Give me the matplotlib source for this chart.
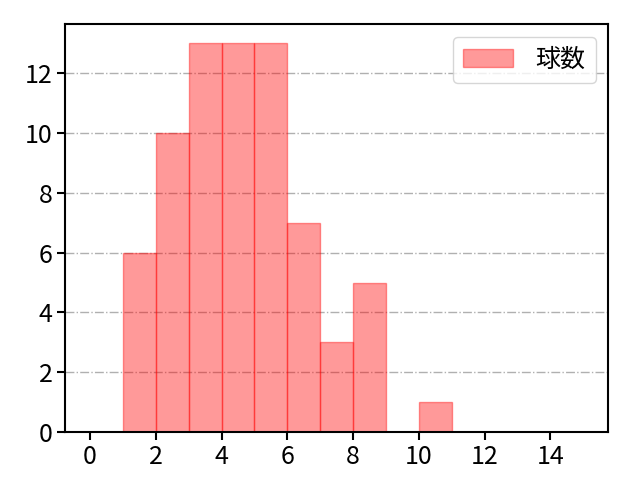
import matplotlib
matplotlib.use("Agg")
import matplotlib.pyplot as plt
import numpy as np

plt.rcParams['font.family'] = ['Noto Sans CJK JP', 'DejaVu Sans']

bin_edges = list(range(0, 16))
counts = [0, 6, 10, 13, 13, 13, 7, 3, 5, 0, 1, 0, 0, 0, 0]
label = "球数"

fig = plt.figure(figsize=(6.4, 4.8), dpi=100)
ax = fig.add_axes([0.102, 0.1, 0.848, 0.85])
ax.hist(bin_edges[:-1], bins=bin_edges, weights=counts, color='red', alpha=0.4,
        edgecolor='red', linewidth=1, label=label)
ax.set_xlim(-0.75, 15.75)
ax.set_ylim(0, 13.65)
ax.set_xticks([0, 2, 4, 6, 8, 10, 12, 14])
ax.set_yticks([0, 2, 4, 6, 8, 10, 12])
ax.grid(axis='y', linestyle='-.', color='#b0b0b0', linewidth=1.0)
ax.set_axisbelow(True)
for s in ax.spines.values():
    s.set_linewidth(1.5)
ax.tick_params(labelsize=18, width=1.5, length=6, pad=3)
ax.legend(loc='upper right', fontsize=18, handletextpad=0.9)
fig.savefig("out.png", dpi=100)
